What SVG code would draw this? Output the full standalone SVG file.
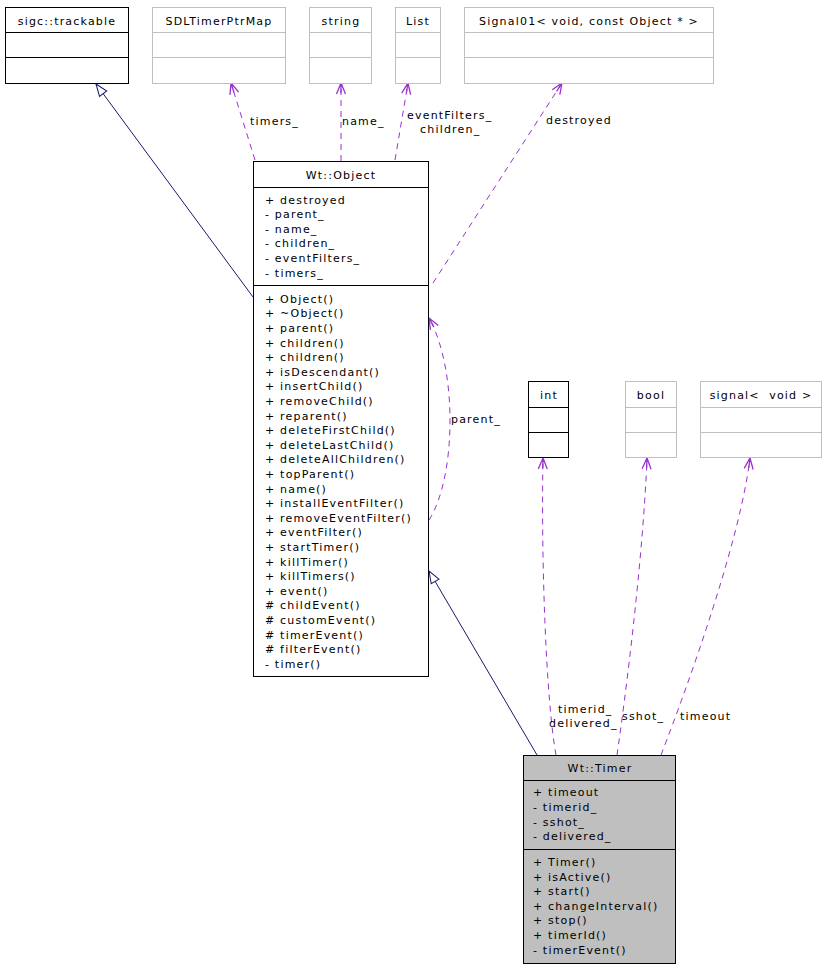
<svg xmlns="http://www.w3.org/2000/svg" width="825" height="968" viewBox="0 0 825 968">
<style>
text{font-family:"DejaVu Sans","Liberation Sans",sans-serif;font-size:11px;letter-spacing:1.2px;fill:#000}
.c{text-anchor:middle}
.box{fill:#fff;stroke:#000;stroke-width:1}
.gbox{fill:#fff;stroke:#bfbfbf;stroke-width:1}
.tbox{fill:#bfbfbf;stroke:#000;stroke-width:1}
.ln{stroke:#000;stroke-width:1}
.gln{stroke:#bfbfbf;stroke-width:1}
.use{fill:none;stroke:#9a32cd;stroke-width:1;stroke-dasharray:6,5;marker-end:url(#vee)}
.inh{fill:none;stroke:#191970;stroke-width:1;marker-end:url(#tri)}
</style>
<defs>
<marker id="vee" viewBox="-12 -6 13 12" refX="0" refY="0" markerWidth="13" markerHeight="12" markerUnits="userSpaceOnUse" orient="auto">
<path d="M-11,-4.5 L0,0 L-11,4.5 M-10,0 L0,0" fill="none" stroke="#9a32cd" stroke-width="1.3"/>
</marker>
<marker id="tri" viewBox="-13 -6 14 12" refX="0" refY="0" markerWidth="14" markerHeight="12" markerUnits="userSpaceOnUse" orient="auto">
<path d="M0,0 L-12,-4.5 L-12,4.5 Z" fill="#fff" stroke="#191970" stroke-width="1"/>
</marker>
</defs>

<g id="edges">
<path class="inh" d="M253,297 L96,84"/>
<path class="inh" d="M537,755 L429,571"/>
<path class="use" d="M255,160 L231,83"/>
<path class="use" d="M341,161 L341,83"/>
<path class="use" d="M395,160 L408,83"/>
<path class="use" d="M433,283 L562,83"/>
<path class="use" d="M429,520 C456,478 458,370 429,318"/>
<path class="use" d="M556,755 C546,700 541,560 543,458"/>
<path class="use" d="M617,755 C625,700 643,560 647,458"/>
<path class="use" d="M661,755 C690,680 740,540 750,458"/>
<text x="250" y="125">timers_</text>
<text x="342" y="125">name_</text>
<text x="407" y="119">eventFilters_</text>
<text x="420" y="133">children_</text>
<text x="546" y="124">destroyed</text>
<text x="451" y="423">parent_</text>
<text x="558" y="713">timerid_</text>
<text x="549" y="727">delivered_</text>
<text x="622" y="720">sshot_</text>
<text x="680" y="720">timeout</text>
</g>

<g id="sigc_trackable">
<rect class="box" x="5.5" y="7.5" width="123" height="76"/>
<line class="ln" x1="5.5" y1="32.5" x2="128.5" y2="32.5"/>
<line class="ln" x1="5.5" y1="57.5" x2="128.5" y2="57.5"/>
<text class="c" x="67" y="24.5">sigc::trackable</text>
</g>

<g id="SDLTimerPtrMap">
<rect class="gbox" x="152.5" y="7.5" width="133" height="76"/>
<line class="gln" x1="152.5" y1="32.5" x2="285.5" y2="32.5"/>
<line class="gln" x1="152.5" y1="57.5" x2="285.5" y2="57.5"/>
<text class="c" x="219" y="24.5">SDLTimerPtrMap</text>
</g>

<g id="string">
<rect class="gbox" x="309.5" y="7.5" width="62" height="76"/>
<line class="gln" x1="309.5" y1="32.5" x2="371.5" y2="32.5"/>
<line class="gln" x1="309.5" y1="57.5" x2="371.5" y2="57.5"/>
<text class="c" x="341" y="24.5">string</text>
</g>

<g id="List">
<rect class="gbox" x="395.5" y="7.5" width="45" height="76"/>
<line class="gln" x1="395.5" y1="32.5" x2="440.5" y2="32.5"/>
<line class="gln" x1="395.5" y1="57.5" x2="440.5" y2="57.5"/>
<text class="c" x="418" y="24.5">List</text>
</g>

<g id="Signal01">
<rect class="gbox" x="464.5" y="7.5" width="249" height="76"/>
<line class="gln" x1="464.5" y1="32.5" x2="713.5" y2="32.5"/>
<line class="gln" x1="464.5" y1="57.5" x2="713.5" y2="57.5"/>
<text class="c" x="589" y="24.5">Signal01&lt; void, const Object * &gt;</text>
</g>

<g id="Wt_Object">
<rect class="box" x="253.5" y="161.5" width="175" height="515"/>
<line class="ln" x1="253.5" y1="187.5" x2="428.5" y2="187.5"/>
<line class="ln" x1="253.5" y1="285.5" x2="428.5" y2="285.5"/>
<text class="c" x="341" y="179">Wt::Object</text>
<text x="265" y="203.5">+ destroyed</text>
<text x="265" y="218.1">- parent_</text>
<text x="265" y="232.7">- name_</text>
<text x="265" y="247.3">- children_</text>
<text x="265" y="261.9">- eventFilters_</text>
<text x="265" y="276.5">- timers_</text>
<text x="265" y="302.7">+ Object()</text>
<text x="265" y="317.3">+ ~Object()</text>
<text x="265" y="331.9">+ parent()</text>
<text x="265" y="346.5">+ children()</text>
<text x="265" y="361.1">+ children()</text>
<text x="265" y="375.7">+ isDescendant()</text>
<text x="265" y="390.3">+ insertChild()</text>
<text x="265" y="404.9">+ removeChild()</text>
<text x="265" y="419.5">+ reparent()</text>
<text x="265" y="434.1">+ deleteFirstChild()</text>
<text x="265" y="448.7">+ deleteLastChild()</text>
<text x="265" y="463.3">+ deleteAllChildren()</text>
<text x="265" y="477.9">+ topParent()</text>
<text x="265" y="492.5">+ name()</text>
<text x="265" y="507.1">+ installEventFilter()</text>
<text x="265" y="521.7">+ removeEventFilter()</text>
<text x="265" y="536.3">+ eventFilter()</text>
<text x="265" y="550.9">+ startTimer()</text>
<text x="265" y="565.5">+ killTimer()</text>
<text x="265" y="580.1">+ killTimers()</text>
<text x="265" y="594.7">+ event()</text>
<text x="265" y="609.3"># childEvent()</text>
<text x="265" y="623.9"># customEvent()</text>
<text x="265" y="638.5"># timerEvent()</text>
<text x="265" y="653.1"># filterEvent()</text>
<text x="265" y="667.7">- timer()</text>
</g>

<g id="int">
<rect class="box" x="528.5" y="381.5" width="40" height="76"/>
<line class="ln" x1="528.5" y1="407.5" x2="568.5" y2="407.5"/>
<line class="ln" x1="528.5" y1="432.5" x2="568.5" y2="432.5"/>
<text class="c" x="549" y="399">int</text>
</g>

<g id="bool">
<rect class="gbox" x="625.5" y="381.5" width="51" height="76"/>
<line class="gln" x1="625.5" y1="407.5" x2="676.5" y2="407.5"/>
<line class="gln" x1="625.5" y1="432.5" x2="676.5" y2="432.5"/>
<text class="c" x="651" y="399">bool</text>
</g>

<g id="signal_void">
<rect class="gbox" x="700.5" y="381.5" width="121" height="76"/>
<line class="gln" x1="700.5" y1="407.5" x2="821.5" y2="407.5"/>
<line class="gln" x1="700.5" y1="432.5" x2="821.5" y2="432.5"/>
<text class="c" x="761" y="399" style="white-space:pre">signal&lt;  void &gt;</text>
</g>

<g id="Wt_Timer">
<rect class="tbox" x="523.5" y="755.5" width="152" height="208"/>
<line class="ln" x1="523.5" y1="780.5" x2="675.5" y2="780.5"/>
<line class="ln" x1="523.5" y1="849.5" x2="675.5" y2="849.5"/>
<text class="c" x="600" y="772">Wt::Timer</text>
<text x="533" y="796.3">+ timeout</text>
<text x="533" y="810.9">- timerid_</text>
<text x="533" y="825.5">- sshot_</text>
<text x="533" y="840.1">- delivered_</text>
<text x="533" y="866">+ Timer()</text>
<text x="533" y="880.6">+ isActive()</text>
<text x="533" y="895.2">+ start()</text>
<text x="533" y="909.8">+ changeInterval()</text>
<text x="533" y="924.4">+ stop()</text>
<text x="533" y="939">+ timerId()</text>
<text x="533" y="953.6">- timerEvent()</text>
</g>
</svg>
